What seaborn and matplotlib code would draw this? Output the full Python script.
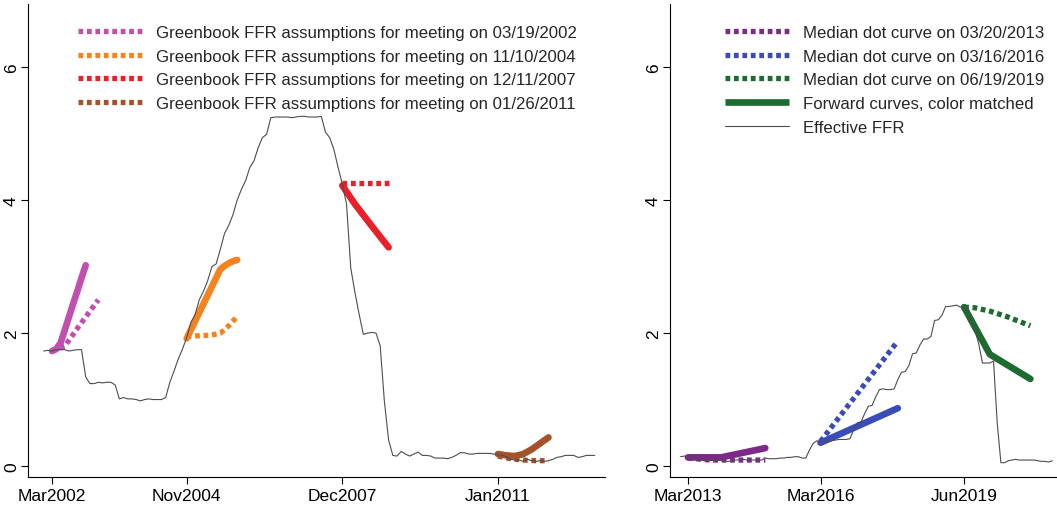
import matplotlib
matplotlib.use("Agg")
import matplotlib.pyplot as plt
import seaborn as sns
from matplotlib.lines import Line2D

# ---------------- data ----------------
# Effective FFR, monthly
ffr_left_start = "2002-01"
ffr_left = [
    1.73, 1.74, 1.73, 1.75, 1.75, 1.75, 1.73, 1.74, 1.75, 1.75, 1.34, 1.24,
    1.24, 1.26, 1.25, 1.26, 1.26, 1.22, 1.01, 1.03, 1.01, 1.01, 1.00, 0.98,
    1.00, 1.01, 1.00, 1.00, 1.00, 1.03, 1.26, 1.43, 1.61, 1.76, 1.93, 2.16,
    2.28, 2.50, 2.63, 2.79, 3.00, 3.04, 3.26, 3.50, 3.62, 3.78, 4.00, 4.16,
    4.29, 4.49, 4.59, 4.79, 4.94, 4.99, 5.24, 5.25, 5.25, 5.25, 5.25, 5.24,
    5.25, 5.26, 5.26, 5.25, 5.25, 5.25, 5.26, 5.02, 4.94, 4.76, 4.49, 4.24,
    3.94, 2.98, 2.61, 2.28, 1.98, 2.00, 2.01, 2.00, 1.81, 0.97, 0.39, 0.16,
    0.15, 0.22, 0.18, 0.15, 0.18, 0.21, 0.16, 0.16, 0.15, 0.12, 0.12, 0.12,
    0.11, 0.13, 0.16, 0.20, 0.20, 0.18, 0.18, 0.19, 0.19, 0.19, 0.19, 0.18,
    0.17, 0.16, 0.14, 0.10, 0.09, 0.09, 0.07, 0.10, 0.08, 0.07, 0.08, 0.07,
    0.08, 0.10, 0.13, 0.14, 0.16, 0.16, 0.16, 0.13, 0.14, 0.16, 0.16, 0.16,
]
ffr_right_start = "2013-01"
ffr_right = [
    0.14, 0.15, 0.14, 0.15, 0.11, 0.09, 0.09, 0.08, 0.08, 0.09, 0.08, 0.09,
    0.07, 0.07, 0.08, 0.09, 0.09, 0.10, 0.09, 0.09, 0.09, 0.09, 0.09, 0.12,
    0.11, 0.11, 0.11, 0.12, 0.12, 0.13, 0.13, 0.14, 0.14, 0.12, 0.12, 0.24,
    0.34, 0.38, 0.36, 0.37, 0.37, 0.38, 0.39, 0.40, 0.40, 0.40, 0.41, 0.54,
    0.65, 0.66, 0.79, 0.90, 0.91, 1.04, 1.15, 1.16, 1.15, 1.15, 1.16, 1.30,
    1.41, 1.42, 1.51, 1.69, 1.70, 1.82, 1.91, 1.91, 1.95, 2.19, 2.20, 2.27,
    2.40, 2.40, 2.41, 2.42, 2.39, 2.38, 2.40, 2.13, 2.04, 1.83, 1.55, 1.55,
    1.55, 1.58, 0.65, 0.05, 0.05, 0.08, 0.09, 0.10, 0.09, 0.09, 0.09, 0.09,
    0.09, 0.08, 0.07, 0.07, 0.06, 0.08,
]

# Left panel: Greenbook assumptions (dotted) and forward curves (solid)
gb2002_dates = ["2002-03", "2002-06", "2002-09", "2002-12", "2003-02"]
gb2002_vals = [1.73, 1.80, 2.07, 2.33, 2.50]
fw2002_dates = ["2002-03", "2002-04", "2002-05", "2002-06", "2002-07",
                "2002-08", "2002-09", "2002-10", "2002-11"]
fw2002_vals = [1.73, 1.76, 1.85, 2.04, 2.24, 2.44, 2.63, 2.83, 3.02]

gb2004_dates = ["2004-11", "2005-02", "2005-05", "2005-07", "2005-08",
                "2005-09", "2005-10", "2005-11"]
gb2004_vals = [1.95, 1.96, 1.97, 2.00, 2.05, 2.11, 2.18, 2.25]
fw2004_dates = ["2004-11", "2005-07", "2005-08", "2005-09", "2005-10", "2005-11"]
fw2004_vals = [1.92, 2.96, 3.01, 3.05, 3.08, 3.10]

gb2007_dates = ["2007-12", "2008-11"]
gb2007_vals = [4.25, 4.25]
fw2007_dates = ["2007-12", "2008-03", "2008-07", "2008-11"]
fw2007_vals = [4.22, 3.94, 3.61, 3.29]

gb2011_dates = ["2011-01", "2011-04", "2011-07", "2011-10", "2012-01"]
gb2011_vals = [0.15, 0.11, 0.09, 0.08, 0.08]
fw2011_dates = ["2011-01", "2011-03", "2011-05", "2011-07", "2011-09",
                "2011-11", "2012-01"]
fw2011_vals = [0.18, 0.16, 0.15, 0.18, 0.25, 0.34, 0.43]

# Right panel: median dot curves (dotted) and forward curves (solid)
dot2013_dates = ["2013-03", "2013-09", "2014-12"]
dot2013_vals = [0.12, 0.09, 0.09]
fw2013_dates = ["2013-03", "2013-12", "2014-12"]
fw2013_vals = [0.13, 0.13, 0.27]

dot2016_dates = ["2016-03", "2017-12"]
dot2016_vals = [0.37, 1.88]
fw2016_dates = ["2016-03", "2017-12"]
fw2016_vals = [0.35, 0.87]

dot2019_dates = ["2019-06", "2019-09", "2020-01", "2020-06", "2020-12"]
dot2019_vals = [2.39, 2.38, 2.33, 2.24, 2.11]
fw2019_dates = ["2019-06", "2020-01", "2020-12"]
fw2019_vals = [2.39, 1.68, 1.31]

left_ticks = ["2002-03", "2004-11", "2007-12", "2011-01"]
left_ticklabels = ["Mar2002", "Nov2004", "Dec2007", "Jan2011"]
right_ticks = ["2013-03", "2016-03", "2019-06"]
right_ticklabels = ["Mar2013", "Mar2016", "Jun2019"]
y_ticks = [0, 2, 4, 6]

left_labels = [
    "Greenbook FFR assumptions for meeting on 03/19/2002",
    "Greenbook FFR assumptions for meeting on 11/10/2004",
    "Greenbook FFR assumptions for meeting on 12/11/2007",
    "Greenbook FFR assumptions for meeting on 01/26/2011",
]
right_labels = [
    "Median dot curve on 03/20/2013",
    "Median dot curve on 03/16/2016",
    "Median dot curve on 06/19/2019",
    "Forward curves, color matched",
    "Effective FFR",
]

c_pink, c_orange, c_red, c_brown = "#c04fae", "#f5821f", "#e8202a", "#a5522b"
c_purple, c_blue, c_green = "#7b2a87", "#3b4cb8", "#1d6b30"
c_ffr = "#4d4d4d"


def ym(s):
    y, m = s.split("-")
    return int(y) + (int(m) - 1) / 12.0


def months(start, n):
    x0 = ym(start)
    return [x0 + i / 12.0 for i in range(n)]


# ---------------- style ----------------
sns.set_style("ticks")
plt.rcParams["font.family"] = ["Liberation Sans", "DejaVu Sans"]
plt.rcParams["axes.linewidth"] = 0.8

fig = plt.figure(figsize=(10.57, 5.10), dpi=100)
axL = fig.add_axes([28 / 1057, 32 / 510, 577 / 1057, 473 / 510])
axR = fig.add_axes([670 / 1057, 32 / 510, 387 / 1057, 473 / 510])

DOT_LW = 3.8
SOL_LW = 4.8
DOT_LS = (0, (0.9, 0.7))


def dotted(ax, dates, vals, color):
    sns.lineplot(x=[ym(d) for d in dates], y=vals, ax=ax, color=color,
                 linewidth=DOT_LW, linestyle=DOT_LS, dash_capstyle="butt",
                 estimator=None, sort=False, zorder=3)


def solid(ax, dates, vals, color):
    sns.lineplot(x=[ym(d) for d in dates], y=vals, ax=ax, color=color,
                 linewidth=SOL_LW, solid_capstyle="round",
                 solid_joinstyle="round", estimator=None, sort=False, zorder=4)


# left panel
for gd, gv, fd, fv, col in [
    (gb2002_dates, gb2002_vals, fw2002_dates, fw2002_vals, c_pink),
    (gb2004_dates, gb2004_vals, fw2004_dates, fw2004_vals, c_orange),
    (gb2007_dates, gb2007_vals, fw2007_dates, fw2007_vals, c_red),
    (gb2011_dates, gb2011_vals, fw2011_dates, fw2011_vals, c_brown),
]:
    dotted(axL, gd, gv, col)
    solid(axL, fd, fv, col)
sns.lineplot(x=months(ffr_left_start, len(ffr_left)), y=ffr_left, ax=axL,
             color=c_ffr, linewidth=0.8, estimator=None, sort=False, zorder=5)

# right panel
for gd, gv, fd, fv, col in [
    (dot2013_dates, dot2013_vals, fw2013_dates, fw2013_vals, c_purple),
    (dot2016_dates, dot2016_vals, fw2016_dates, fw2016_vals, c_blue),
    (dot2019_dates, dot2019_vals, fw2019_dates, fw2019_vals, c_green),
]:
    dotted(axR, gd, gv, col)
    solid(axR, fd, fv, col)
sns.lineplot(x=months(ffr_right_start, len(ffr_right)), y=ffr_right, ax=axR,
             color=c_ffr, linewidth=0.8, estimator=None, sort=False, zorder=5)

# axes formatting
axL.set_xlim(2001.69, 2013.12)
axR.set_xlim(2012.76, 2021.52)
for ax, tk, tl in [(axL, left_ticks, left_ticklabels),
                   (axR, right_ticks, right_ticklabels)]:
    ax.set_ylim(-0.165, 6.95)
    ax.set_xticks([ym(t) for t in tk])
    ax.set_xticklabels(tl)
    ax.set_yticks(y_ticks)
    ax.set_yticklabels([str(v) for v in y_ticks])
    ax.tick_params(axis="x", labelsize=12.5, length=5, width=0.8, pad=3,
                   colors="black")
    ax.tick_params(axis="y", labelsize=12.5, length=5, width=0.8, pad=1.5,
                   labelrotation=90, colors="black")
    for lab in ax.get_yticklabels():
        lab.set_va("center")
    ax.set_xlabel("")
    ax.set_ylabel("")
    ax.set_facecolor("white")
    sns.despine(ax=ax)
    for s in ["left", "bottom"]:
        ax.spines[s].set_color("black")

# legends
def dot_handle(col):
    return Line2D([], [], color=col, linewidth=DOT_LW, linestyle=DOT_LS,
                  dash_capstyle="butt")

hL = [dot_handle(c) for c in [c_pink, c_orange, c_red, c_brown]]
legL = axL.legend(hL, left_labels, loc="upper left",
                  bbox_to_anchor=(0.0867, 0.956), frameon=False,
                  fontsize=12.1, handlelength=3.8, handletextpad=0.85,
                  labelspacing=0.52, borderpad=0, borderaxespad=0)

hR = [dot_handle(c) for c in [c_purple, c_blue, c_green]]
hR.append(Line2D([], [], color=c_green, linewidth=SOL_LW, solid_capstyle="butt"))
hR.append(Line2D([], [], color=c_ffr, linewidth=0.8))
legR = axR.legend(hR, right_labels, loc="upper left",
                  bbox_to_anchor=(0.142, 0.956), frameon=False,
                  fontsize=12.1, handlelength=3.8, handletextpad=0.85,
                  labelspacing=0.52, borderpad=0, borderaxespad=0)

fig.savefig("out.png", dpi=100, facecolor="white")
